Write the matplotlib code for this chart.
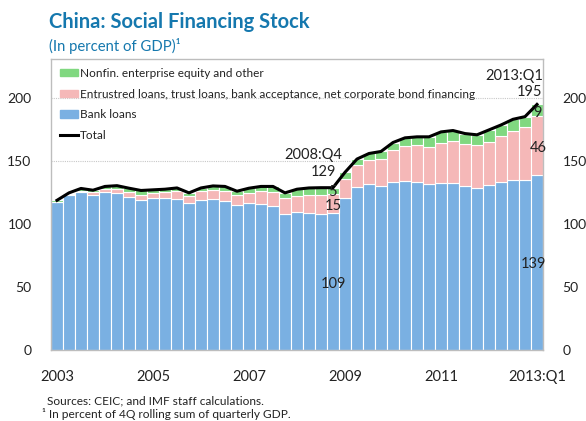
import numpy as np
import matplotlib
matplotlib.use("Agg")
import matplotlib.pyplot as plt
from matplotlib.patches import Patch
from matplotlib.lines import Line2D

plt.rcParams["font.family"] = ["Lato", "DejaVu Sans"]

# quarterly data, 2003:Q1 .. 2013:Q1 (percent of GDP)
bank_loans = [118, 123.4, 125.4, 123.4, 125.4, 124.9, 122, 119.4, 120.7, 120.7,
              119.9, 116.9, 119.4, 119.9, 118.4, 115.4, 116.9, 116.4, 114.6, 108.4,
              109.7, 109.2, 108.4, 109, 121, 129.7, 131.7, 130.2, 133.9, 134.4,
              133.9, 132, 132.8, 132.4, 130.7, 128.8, 131, 133.3, 134.9, 134.9,
              139.3]
entrusted = [0, 0.5, 1, 2, 2.2, 2.7, 3.4, 4, 4, 4.5,
             6.3, 5.7, 6.8, 7.1, 7.8, 8, 8, 9.8, 10.8, 12.6,
             12.9, 14.2, 15, 15, 15, 17.3, 19.5, 21.5, 24.6, 27.3,
             28.8, 29.1, 31.8, 33.7, 33.3, 33.9, 34.6, 36.7, 39.1, 42,
             46.3]
other = [1, 1, 2, 1.6, 2.4, 3, 3.2, 3.4, 2.6, 2.6,
         2.6, 2.3, 2.6, 3.4, 3.8, 2.8, 3.7, 3.8, 4.6, 3.9,
         5.2, 5.4, 5.6, 5, 5.2, 4.7, 4.9, 6, 6.3, 6.8,
         6.6, 8.2, 8.6, 8.2, 7.9, 8.2, 9.2, 8.7, 9.2, 8.4,
         9.4]

# one label every 8 quarters (2003:Q1 ... 2013:Q1)
xtick_labels = ["2003", "2005", "2007", "2009", "2011", "2013:Q1"]

BLUE = "#7AB0E2"
PINK = "#F5B8B8"
GREEN = "#80D880"
TITLE = "#1578AE"

bank = np.array(bank_loans)
ent = np.array(entrusted)
oth = np.array(other)
total = bank + ent + oth
x = np.arange(len(bank))

fig = plt.figure(figsize=(5.86, 4.21), dpi=100)
ax = fig.add_axes([0.087, 0.1675, 0.8396, 0.6924])

ax.bar(x, bank, width=1.0, color=BLUE, edgecolor="white", linewidth=0.8, zorder=2)
ax.bar(x, ent, bottom=bank, width=1.0, color=PINK, edgecolor="white", linewidth=0.8, zorder=2)
ax.bar(x, oth, bottom=bank + ent, width=1.0, color=GREEN, edgecolor="white", linewidth=0.8, zorder=2)
ax.plot(x, total, color="black", lw=2.2, zorder=3)

ax.set_xlim(-0.5, 40.5)
ax.set_ylim(0, 231)
ax.set_yticks([0, 50, 100, 150, 200])
ax.grid(axis="y", color="#C8C8C8", linestyle=(0, (1, 1)), linewidth=0.8, zorder=1)
ax.tick_params(axis="y", length=0, pad=14, labelsize=10, labelright=True, labelcolor="#222222")
ax.set_xticks(x[::8])
ax.set_xticklabels(xtick_labels)
ax.tick_params(axis="x", length=0, pad=14, labelsize=10.5, labelcolor="#222222")
for s in ax.spines.values():
    s.set_color("#BDBDBD")
    s.set_linewidth(1.0)

handles = [Patch(color=GREEN), Patch(color=PINK), Patch(color=BLUE),
           Line2D([0], [0], color="black", lw=2.2)]
labels = ["Nonfin. enterprise equity and other",
          "Entrustred loans, trust loans, bank acceptance, net corporate bond financing",
          "Bank loans", "Total"]
ax.legend(handles, labels, loc="upper left", bbox_to_anchor=(0.0, 1.0), frameon=False,
          fontsize=8.5, handlelength=1.5, handleheight=0.55, handletextpad=0.2,
          labelspacing=0.82, borderaxespad=0.35, labelcolor="#222222")

kw = dict(fontsize=10.5, color="#222222", va="center", zorder=4)
ax.text(23.8, 155, "2008:Q4", ha="right", **kw)
ax.text(23.3, 141.4, "129", ha="right", **kw)
ax.text(23.3, 125.6, "5", ha="right", **kw)
ax.text(23.75, 114.5, "15", ha="right", **kw)
ax.text(23.0, 52.7, "109", ha="center", **kw)
ax.text(40.5, 217.7, "2013:Q1", ha="right", **kw)
ax.text(40.4, 204.6, "195", ha="right", **kw)
ax.text(40.4, 188, "9", ha="right", **kw)
ax.text(40.8, 160.7, "46", ha="right", **kw)
ax.text(40.8, 68.5, "139", ha="right", **kw)

fig.text(49 / 586, 1 - 22 / 421, "China: Social Financing Stock", fontsize=14.5,
         fontweight="bold", color=TITLE, va="center", ha="left")
fig.text(49 / 586, 1 - 46 / 421, "(In percent of GDP)\u00b9", fontsize=10.7,
         color=TITLE, va="center", ha="left")
fig.text(47 / 586, 1 - 401 / 421, "Sources: CEIC; and IMF staff calculations.",
         fontsize=8.6, color="#222222", va="center", ha="left")
fig.text(42 / 586, 1 - 414 / 421, "\u00b9 In percent of 4Q rolling sum of quarterly GDP.",
         fontsize=8.6, color="#222222", va="center", ha="left")

fig.savefig("out.png", dpi=100)
